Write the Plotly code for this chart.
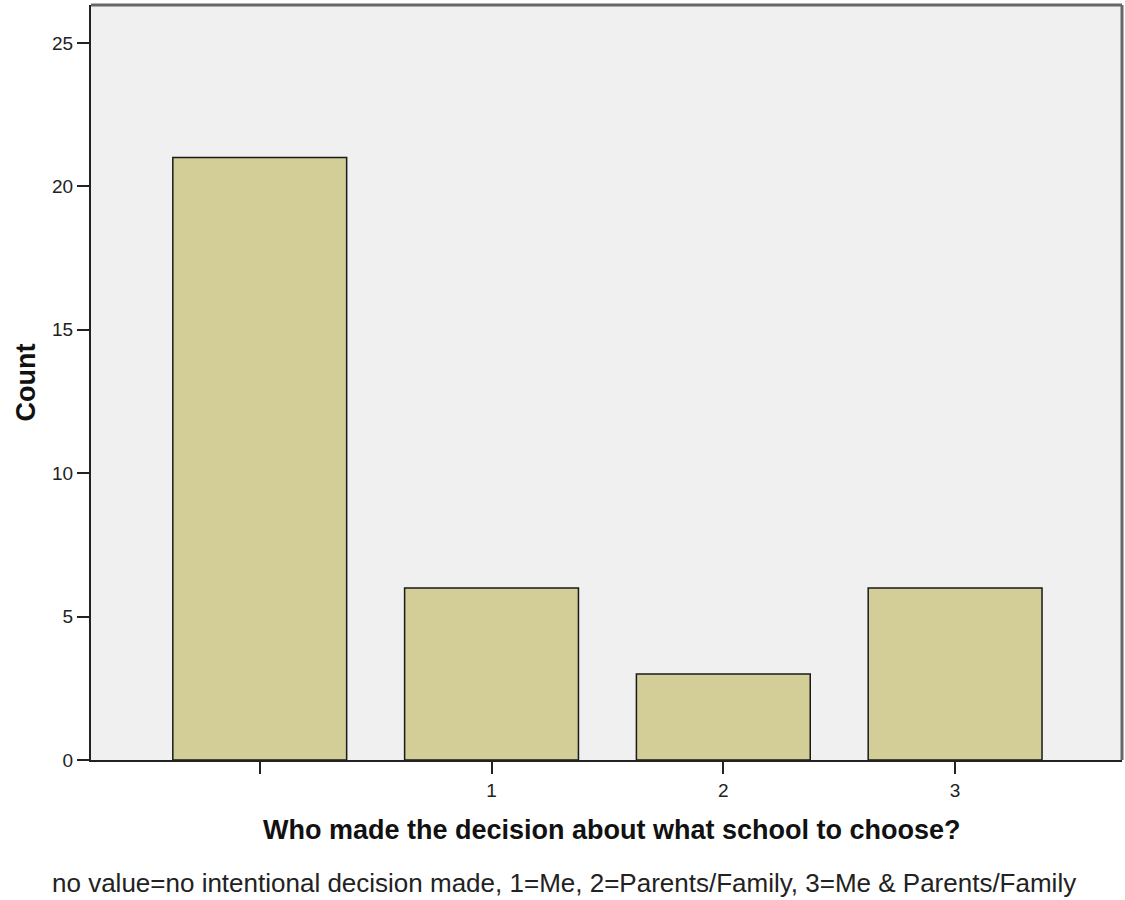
import plotly.graph_objects as go

categories = ["", "1", "2", "3"]
counts = [21, 6, 3, 6]
positions = [0, 1, 2, 3]
y_ticks = [0, 5, 10, 15, 20, 25]

x_title = "Who made the decision about what school to choose?"
y_title = "Count"
footnote = "no value=no intentional decision made, 1=Me, 2=Parents/Family, 3=Me & Parents/Family"

fig = go.Figure()
fig.add_trace(go.Bar(
    x=positions, y=counts, width=0.75,
    marker=dict(color="#D3CE97", line=dict(color="#1a1a1a", width=1.5)),
))

fig.update_layout(
    width=1125, height=900,
    margin=dict(l=91, r=3, t=5, b=140),
    paper_bgcolor="white", plot_bgcolor="#F0F0F0",
    font=dict(family="Liberation Sans, Arial", size=19, color="#222"),
    showlegend=False,
    xaxis=dict(
        range=[-0.728, 3.72], tickmode="array", tickvals=positions, ticktext=categories,
        ticks="outside", ticklen=12, tickwidth=2, tickcolor="#222",
        showgrid=False, zeroline=False, showline=True, linecolor="#222", linewidth=2,
    ),
    yaxis=dict(
        range=[0, 26.32], tickvals=y_ticks,
        ticks="outside", ticklen=12, tickwidth=2, tickcolor="#222",
        showgrid=False, zeroline=False, showline=True, linecolor="#222", linewidth=2,
    ),
)
fig.add_shape(type="line", xref="paper", yref="paper", x0=0, x1=1, y0=1, y1=1,
              line=dict(color="#666", width=3))
fig.add_shape(type="line", xref="paper", yref="paper", x0=1, x1=1, y0=0, y1=1,
              line=dict(color="#666", width=3))
fig.add_annotation(text="<b>" + x_title + "</b>", xref="paper", yref="paper",
                   x=0.505, y=-0.0927, xanchor="center", yanchor="middle",
                   showarrow=False, font=dict(size=27, color="#111"))
fig.add_annotation(text="<b>" + y_title + "</b>", xref="paper", yref="paper",
                   x=-0.064, y=0.5, xanchor="center", yanchor="middle", textangle=-90,
                   showarrow=False, font=dict(size=27, color="#111"))
fig.add_annotation(text=footnote, xref="paper", yref="paper",
                   x=0.459, y=-0.163, xanchor="center", yanchor="middle",
                   showarrow=False, font=dict(size=26, color="#222"))

fig.write_html("out.html", config={"displayModeBar": False},
               post_script="document.body.style.margin='0';")
